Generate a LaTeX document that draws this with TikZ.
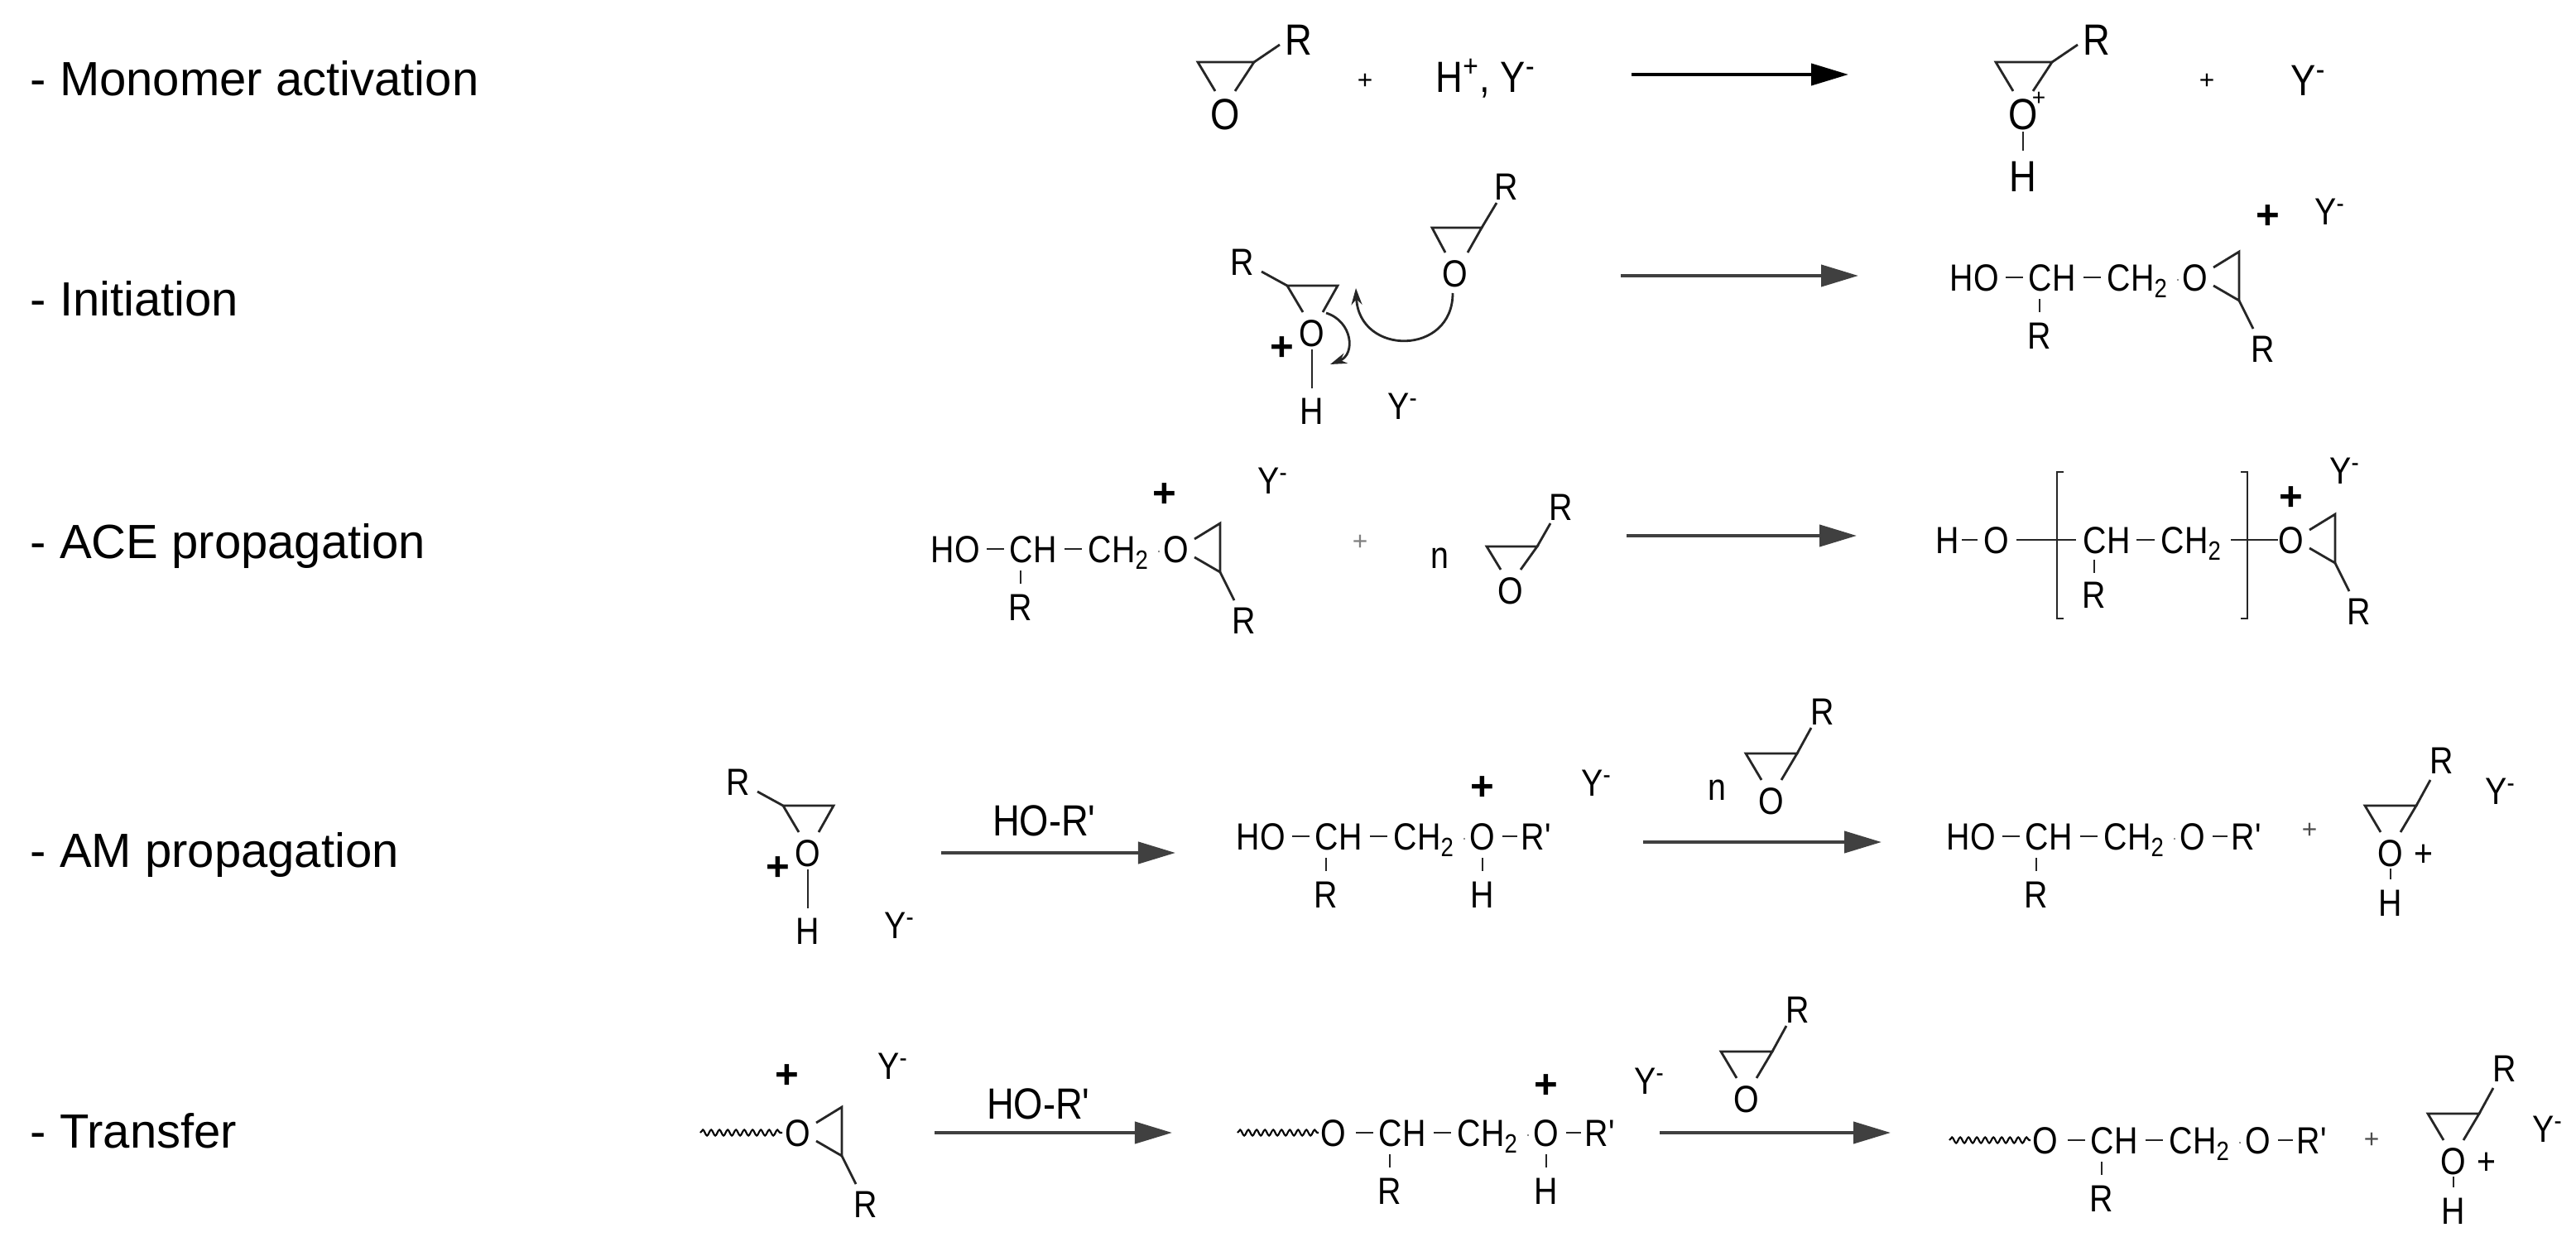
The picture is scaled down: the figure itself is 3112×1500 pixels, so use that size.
\documentclass[tikz,border=0pt]{standalone}
\usepackage{fontspec}
\setmainfont{Liberation Sans}
\newfontfamily\chemfont[FakeStretch=0.86]{Liberation Sans}
\usetikzlibrary{arrows.meta,decorations.pathmorphing}
\tikzset{
  atom/.style={inner sep=0pt,font=\chemfont\fontsize{13pt}{15pt}\selectfont,text height=0.33cm,text depth=0pt},
  big/.style={inner sep=0pt,font=\chemfont\fontsize{15pt}{17pt}\selectfont,text height=0.38cm,text depth=0pt},
  lab/.style={inner sep=0pt,anchor=west,font=\fontsize{16.5pt}{20pt}\selectfont},
  bond/.style={line width=0.8pt,black!85},
  rxn/.style={line width=1.2pt,black!75,-{Triangle[length=0.45cm,width=0.26cm]}},
  curly/.style={line width=0.8pt,black!85,-{Stealth[length=0.2cm,width=0.13cm]}},
  wavy/.style={line width=0.6pt,decorate,decoration={snake,amplitude=0.035cm,segment length=0.1cm}},
  pl/.style={inner sep=0pt,font=\fontsize{9pt}{10pt}\selectfont,black!70},
  bp/.style={inner sep=0pt,font=\fontsize{14pt}{15pt}\selectfont\bfseries}
}
\newcommand\Ym{Y\textsuperscript{-}}
\newcommand\Rp{R\textquotesingle}
\newcommand\ChainCore[3]{%
  \begin{scope}[shift={(#2,#3)}]
  \node[atom,anchor=west] (#1ch) at (0,0) {CH};
  \node[atom,anchor=west] (#1chh) at (95,0) {CH\textsubscript{2}};
  \draw[bond] (-27,0) -- (-6,0);
  \draw[bond] (67,0) -- (88,0);
  \draw[bond] (14,26) -- (14,42);
  \node[atom] (#1r) at (14,70) {R};
  \fill[black!60] (181,3) circle[radius=0.012cm];
  \end{scope}}
\newcommand\SufO[3]{\node[atom] (#1o) at ({#2+203},#3) {O};}
\newcommand\PreHO[3]{\node[atom,anchor=west] (#1ho) at ({#2-95},#3) {HO};}
\newcommand\PreWavy[3]{%
  \node[atom,anchor=west] (#1ow) at ({#2-70},#3) {O};
  \draw[wavy] ({#2-170},#3) -- ({#2-72},#3);}
\newcommand\SufRp[3]{%
  \draw[bond] ({#2+227},#3) -- ({#2+245},#3);
  \node[atom,anchor=west] (#1rp) at ({#2+249},#3) {\Rp};}
\newcommand\SufH[3]{%
  \draw[bond] ({#2+203},{#3+26}) -- ({#2+203},{#3+42});
  \node[atom] (#1h) at ({#2+203},{#3+70}) {H};}
\newcommand\EpR[3]{%
  \begin{scope}[shift={(#2,#3)}]
  \node[atom] (#1o) at (0,0) {O};
  \draw[bond] (22,-12) -- (53,-31) -- (53,28) -- (22,10);
  \draw[bond] (53,28) -- (70,62);
  \node[atom] (#1r) at (82,86) {R};
  \end{scope}}
\newcommand\EpD[3]{%
  \begin{scope}[shift={(#2,#3)}]
  \node[atom] (#1o) at (0,0) {O};
  \draw[bond] (-12,-25) -- (-31,-57) -- (31,-57) -- (12,-25);
  \draw[bond] (31,-57) -- (48,-88);
  \node[atom] (#1r) at (62,-108) {R};
  \end{scope}}
\newcommand\EpH[3]{%
  \begin{scope}[shift={(#2,#3)}]
  \node[atom] (#1o) at (0,0) {O};
  \draw[bond] (-12,-25) -- (-31,-57) -- (31,-57) -- (12,-25);
  \draw[bond] (31,-57) -- (48,-88);
  \node[atom] (#1r) at (62,-112) {R};
  \draw[bond] (0,19) -- (0,32);
  \node[atom] (#1h) at (0,60) {H};
  \node[atom] (#1p) at (40,0) {+};
  \end{scope}}
\newcommand\EpL[3]{%
  \begin{scope}[shift={(#2,#3)}]
  \node[atom] (#1o) at (0,0) {O};
  \draw[bond] (-11,-25) -- (-30,-57) -- (31,-57) -- (13,-25);
  \draw[bond] (-30,-57) -- (-61,-74);
  \node[atom] (#1r) at (-84,-86) {R};
  \draw[bond] (0,20) -- (0,67);
  \node[atom] (#1h) at (0,94) {H};
  \node[bp] (#1p) at (-36,19) {+};
  \end{scope}}
\begin{document}
\begin{tikzpicture}[x=0.01cm,y=-0.01cm]
\useasboundingbox (0,0) rectangle (3112,1500);
\node[lab] (l1) at (36,95) {- Monomer activation};
\node[lab] (l2) at (36,361) {- Initiation};
\node[lab] (l3) at (36,659) {- ACE propagation};
\node[lab] (l4) at (36,1032) {- AM propagation};
\node[lab] (l5) at (36,1366) {- Transfer};

% ---------- Row 1
\begin{scope}[shift={(1480,137)}]
\node[big] (m1o) at (0,0) {O};
\draw[bond] (-12,-27) -- (-33,-62) -- (35,-62) -- (12,-27);
\draw[bond] (35,-62) -- (66,-83);
\node[big] (m1r) at (89,-90) {R};
\end{scope}
\node[pl,black] (m1p) at (1649,98) {+};
\node[big] (m1h) at (1795,92) {H\textsuperscript{+}, \Ym};
\coordinate (a1s) at (1971,90); \coordinate (a1e) at (2233,90);
\draw[rxn,black] (a1s) -- (a1e);
\begin{scope}[shift={(2444,137)}]
\node[big] (m2o) at (0,0) {O};
\node[inner sep=0pt,font=\fontsize{8pt}{9pt}\selectfont] (m2p) at (19,-18) {+};
\draw[bond] (-12,-27) -- (-33,-62) -- (35,-62) -- (12,-27);
\draw[bond] (35,-62) -- (66,-83);
\node[big] (m2r) at (89,-90) {R};
\draw[bond] (0,22) -- (0,45);
\node[big] (m2h) at (0,75) {H};
\end{scope}
\node[pl,black] (m2pp) at (2666,98) {+};
\node[big] (m2y) at (2789,96) {\Ym};

% ---------- Row 2
\EpL{i1}{1585}{402}
\node[atom] (i1y) at (1695,490) {\Ym};
\begin{scope}[shift={(1758,330)}]
\node[atom] (i2o) at (0,0) {O};
\draw[bond] (-12,-25) -- (-28,-55) -- (32,-55) -- (15,-25);
\draw[bond] (32,-55) -- (50,-85);
\node[atom] (i2r) at (62,-105) {R};
\end{scope}
\draw[curly] (1755,354) .. controls (1755,430) and (1642,430) .. (1638,348);
\draw[curly] (1602,378) .. controls (1634,388) and (1638,428) .. (1607,440);
\coordinate (a2s) at (1958,333); \coordinate (a2e) at (2245,333);
\draw[rxn] (a2s) -- (a2e);
\PreHO{p2}{2450}{335}
\ChainCore{p2}{2450}{335}
\EpR{p2e}{2652}{335}
\node[bp] (p2p) at (2740,262) {+};
\node[atom] (p2y) at (2815,255) {\Ym};

% ---------- Row 3
\PreHO{a3}{1219}{663}
\ChainCore{a3}{1219}{663}
\EpR{a3e}{1421}{663}
\node[bp] (a3p) at (1407,598) {+};
\node[atom] (a3y) at (1538,580) {\Ym};
\node[pl,black!50] (a3pl) at (1643,655) {+};
\node[atom] (a3n) at (1739,670) {n};
\begin{scope}[shift={(1825,713)}]
\node[atom] (a3mo) at (0,0) {O};
\draw[bond] (-12,-25) -- (-29,-53) -- (32,-53) -- (12,-25);
\draw[bond] (32,-53) -- (48,-81);
\node[atom] (a3mr) at (61,-101) {R};
\end{scope}
\coordinate (a3s) at (1965,647); \coordinate (a3e) at (2243,647);
\draw[rxn] (a3s) -- (a3e);
\node[atom,anchor=west] (b3h) at (2338,652) {H};
\draw[bond] (2370,652) -- (2389,652);
\node[atom,anchor=west] (b3o) at (2396,652) {O};
\draw[bond] (2436,652) -- (2508,652);
\node[atom,anchor=west] (b3ch) at (2516,652) {CH};
\draw[bond] (2581,652) -- (2603,652);
\node[atom,anchor=west] (b3chh) at (2610,652) {CH\textsubscript{2}};
\draw[bond] (2695,652) -- (2752,652);
\draw[bond] (2530,676) -- (2530,692);
\node[atom] (b3r) at (2530,718) {R};
\draw[bond] (2493,570) -- (2485,570) -- (2485,747) -- (2493,747);
\draw[bond] (2707,570) -- (2715,570) -- (2715,747) -- (2707,747);
\EpR{b3e}{2768}{652}
\node[bp] (b3p) at (2768,602) {+};
\node[atom] (b3y) at (2833,568) {\Ym};

% ---------- Row 4
\EpL{c4}{976}{1030}
\node[atom] (c4y) at (1087,1117) {\Ym};
\coordinate (a4s) at (1137,1030); \coordinate (a4e) at (1420,1030);
\draw[rxn] (a4s) -- (a4e);
\node[big] (a4l) at (1262,990) {HO-\Rp};
\PreHO{d4}{1588}{1010}
\ChainCore{d4}{1588}{1010}
\SufO{d4}{1588}{1010}
\SufRp{d4}{1588}{1010}
\SufH{d4}{1588}{1010}
\node[bp] (d4p) at (1791,952) {+};
\node[atom] (d4y) at (1929,945) {\Ym};
\coordinate (a4bs) at (1985,1017); \coordinate (a4be) at (2273,1017);
\draw[rxn] (a4bs) -- (a4be);
\node[atom] (a4n) at (2074,950) {n};
\EpD{a4m}{2140}{967}
\PreHO{e4}{2446}{1010}
\ChainCore{e4}{2446}{1010}
\SufO{e4}{2446}{1010}
\SufRp{e4}{2446}{1010}
\node[pl] (e4pl) at (2790,1003) {+};
\EpH{e4x}{2888}{1030}
\node[atom] (e4y) at (3021,955) {\Ym};

% ---------- Row 5
\draw[wavy] (846,1368) -- (945,1368);
\EpR{f5}{964}{1368}
\node[bp] (f5p) at (951,1300) {+};
\node[atom] (f5y) at (1079,1287) {\Ym};
\coordinate (a5s) at (1129,1368); \coordinate (a5e) at (1416,1368);
\draw[rxn] (a5s) -- (a5e);
\node[big] (a5l) at (1255,1332) {HO-\Rp};
\PreWavy{g5}{1665}{1368}
\ChainCore{g5}{1665}{1368}
\SufO{g5}{1665}{1368}
\SufRp{g5}{1665}{1368}
\SufH{g5}{1665}{1368}
\node[bp] (g5p) at (1868,1312) {+};
\node[atom] (g5y) at (1993,1305) {\Ym};
\coordinate (a5bs) at (2005,1368); \coordinate (a5be) at (2284,1368);
\draw[rxn] (a5bs) -- (a5be);
\EpD{a5m}{2110}{1327}
\PreWavy{h5}{2525}{1377}
\ChainCore{h5}{2525}{1377}
\SufO{h5}{2525}{1377}
\SufRp{h5}{2525}{1377}
\node[pl] (h5pl) at (2865,1377) {+};
\EpH{h5x}{2964}{1402}
\node[atom] (h5y) at (3078,1363) {\Ym};
\end{tikzpicture}
\end{document}
